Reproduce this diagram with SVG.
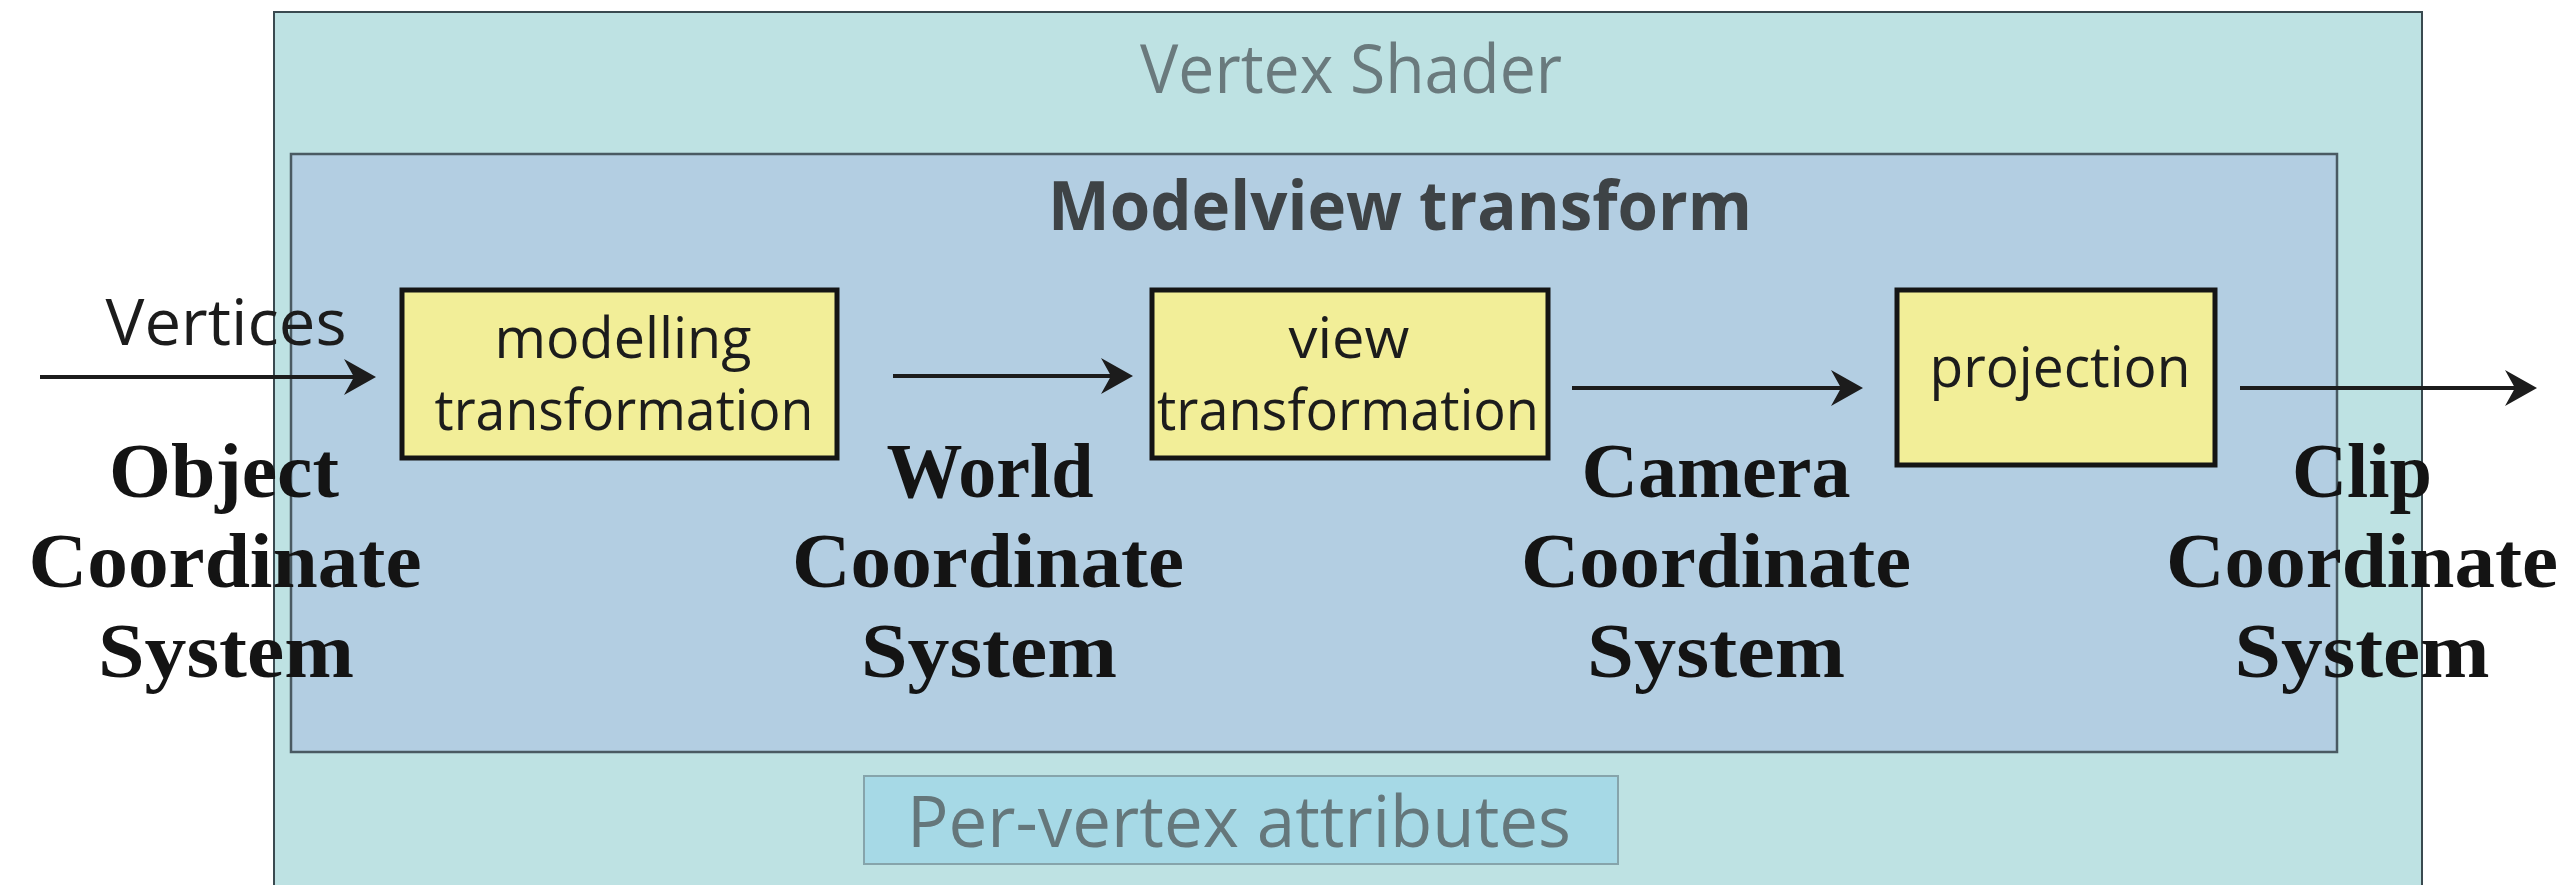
<svg xmlns="http://www.w3.org/2000/svg" width="2560" height="885" viewBox="0 0 2560 885">
  <style>
    .sans { font-family: "Open Sans", "Noto Sans", "Liberation Sans", sans-serif; }
    .serif { font-family: "Liberation Serif", "DejaVu Serif", serif; font-weight: bold; fill: #141414; font-size: 78px; }
    .box { fill: #f2ee98; stroke: #151515; stroke-width: 5; }
    .boxtxt { font-size: 56px; fill: #1c1c1c; }
    .conn { fill: none; stroke: #1c1c1c; stroke-width: 4; }
  </style>
  <defs>
    <marker id="arr" markerUnits="userSpaceOnUse" markerWidth="60" markerHeight="60" viewBox="-30 -30 60 60" refX="0" refY="0" orient="auto" overflow="visible">
      <path d="M8,0 L-24,-18 L-14,0 L-24,18 Z" fill="#1c1c1c"/>
    </marker>
  </defs>
  <rect width="2560" height="885" fill="#ffffff"/>

  <g id="vertex-shader">
    <rect x="274" y="12" width="2148" height="890" fill="#bee2e3" stroke="#3a4a50" stroke-width="2"/>
    <text class="sans" x="1351" y="93" text-anchor="middle" font-size="68" fill="#6a7a7d" textLength="422" lengthAdjust="spacingAndGlyphs">Vertex Shader</text>
  </g>

  <g id="modelview-transform">
    <rect x="291" y="154" width="2046" height="598" fill="#b3cee2" stroke="#4a5a62" stroke-width="2.5"/>
    <text class="sans" x="1400" y="230" text-anchor="middle" font-size="68" font-weight="bold" fill="#3e4346" textLength="704" lengthAdjust="spacingAndGlyphs">Modelview transform</text>
  </g>

  <g id="per-vertex-attributes">
    <rect x="864" y="776" width="754" height="88" fill="#a6d9e6" stroke="#86a4ab" stroke-width="2"/>
    <text class="sans" x="1239" y="847" text-anchor="middle" font-size="72" fill="#65777b" textLength="664" lengthAdjust="spacingAndGlyphs">Per-vertex attributes</text>
  </g>

  <g id="vertices-label">
    <text class="sans" x="226" y="345" text-anchor="middle" font-size="64" fill="#1c1c1c" textLength="241" lengthAdjust="spacingAndGlyphs">Vertices</text>
  </g>

  <g id="modelling-transformation">
    <rect class="box" x="402" y="290" width="435" height="168"/>
    <text class="sans boxtxt" x="623" y="358" text-anchor="middle" textLength="257" lengthAdjust="spacingAndGlyphs">modelling</text>
    <text class="sans boxtxt" x="624" y="430" text-anchor="middle" textLength="379" lengthAdjust="spacingAndGlyphs">transformation</text>
  </g>

  <g id="view-transformation">
    <rect class="box" x="1152" y="290" width="396" height="168"/>
    <text class="sans boxtxt" x="1349" y="358" text-anchor="middle" textLength="121" lengthAdjust="spacingAndGlyphs">view</text>
    <text class="sans boxtxt" x="1348" y="430" text-anchor="middle" textLength="382" lengthAdjust="spacingAndGlyphs">transformation</text>
  </g>

  <g id="projection">
    <rect class="box" x="1897" y="290" width="318" height="175"/>
    <text class="sans boxtxt" x="2060" y="387" text-anchor="middle" textLength="261" lengthAdjust="spacingAndGlyphs">projection</text>
  </g>

  <g id="object-cs">
    <text class="serif" x="224" y="497" text-anchor="middle" textLength="230" lengthAdjust="spacingAndGlyphs">Object</text>
    <text class="serif" x="225" y="587" text-anchor="middle" textLength="393" lengthAdjust="spacingAndGlyphs">Coordinate</text>
    <text class="serif" x="226" y="677" text-anchor="middle" textLength="256" lengthAdjust="spacingAndGlyphs">System</text>
  </g>

  <g id="world-cs">
    <text class="serif" x="990" y="497" text-anchor="middle" textLength="207" lengthAdjust="spacingAndGlyphs">World</text>
    <text class="serif" x="988" y="587" text-anchor="middle" textLength="392" lengthAdjust="spacingAndGlyphs">Coordinate</text>
    <text class="serif" x="989" y="677" text-anchor="middle" textLength="256" lengthAdjust="spacingAndGlyphs">System</text>
  </g>

  <g id="camera-cs">
    <text class="serif" x="1716" y="497" text-anchor="middle" textLength="269" lengthAdjust="spacingAndGlyphs">Camera</text>
    <text class="serif" x="1716" y="587" text-anchor="middle" textLength="390" lengthAdjust="spacingAndGlyphs">Coordinate</text>
    <text class="serif" x="1716" y="677" text-anchor="middle" textLength="258" lengthAdjust="spacingAndGlyphs">System</text>
  </g>

  <g id="clip-cs">
    <text class="serif" x="2362" y="497" text-anchor="middle" textLength="140" lengthAdjust="spacingAndGlyphs">Clip</text>
    <text class="serif" x="2362" y="587" text-anchor="middle" textLength="392" lengthAdjust="spacingAndGlyphs">Coordinate</text>
    <text class="serif" x="2362" y="677" text-anchor="middle" textLength="255" lengthAdjust="spacingAndGlyphs">System</text>
  </g>

  <g id="connectors">
    <path class="conn" d="M40,377 H368" marker-end="url(#arr)"/>
    <path class="conn" d="M893,376 H1125" marker-end="url(#arr)"/>
    <path class="conn" d="M1572,388 H1855" marker-end="url(#arr)"/>
    <path class="conn" d="M2240,388 H2529" marker-end="url(#arr)"/>
  </g>
</svg>
